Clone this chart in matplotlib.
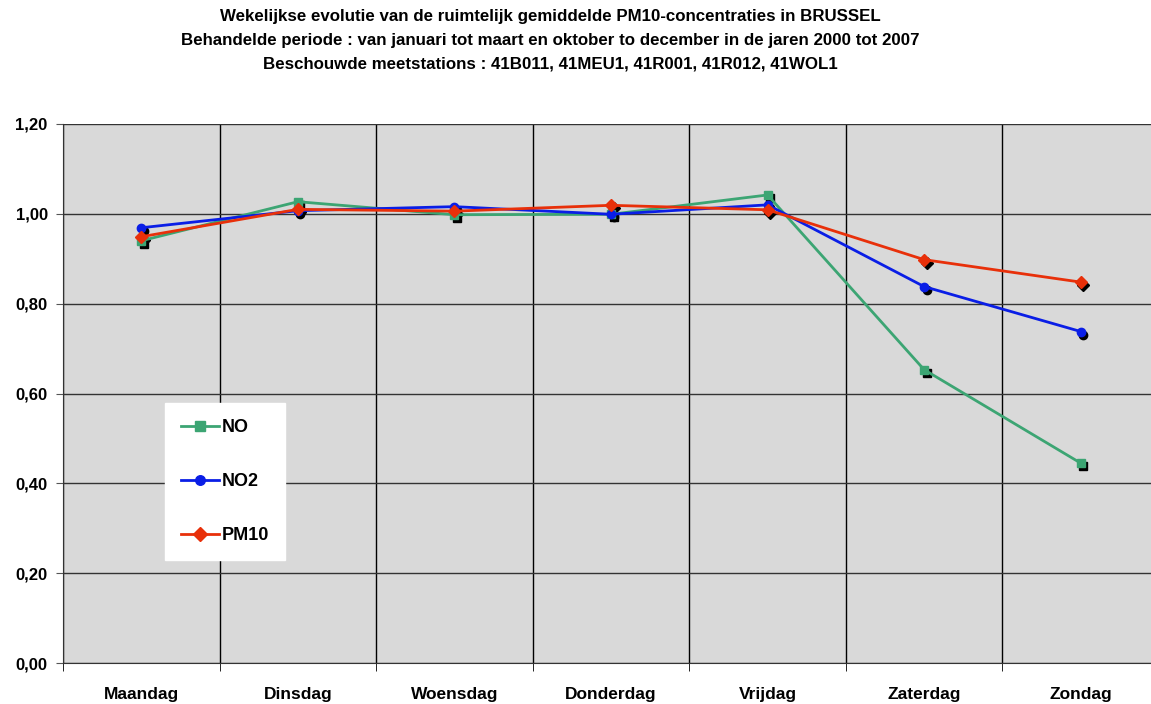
import matplotlib
matplotlib.use('Agg')
import matplotlib.pyplot as plt
from matplotlib.transforms import offset_copy
import numpy as np

days = ['Maandag', 'Dinsdag', 'Woensdag', 'Donderdag', 'Vrijdag', 'Zaterdag', 'Zondag']
no_vals = [0.940, 1.027, 0.998, 0.999, 1.042, 0.653, 0.445]
no2_vals = [0.969, 1.007, 1.016, 0.999, 1.020, 0.838, 0.738]
pm10_vals = [0.949, 1.010, 1.006, 1.019, 1.009, 0.898, 0.848]
yticks = [0.0, 0.2, 0.4, 0.6, 0.8, 1.0, 1.2]

title_lines = [
    'Wekelijkse evolutie van de ruimtelijk gemiddelde PM10-concentraties in BRUSSEL',
    'Behandelde periode : van januari tot maart en oktober to december in de jaren 2000 tot 2007',
    'Beschouwde meetstations : 41B011, 41MEU1, 41R001, 41R012, 41WOL1',
]

plt.rcParams['font.family'] = ['Liberation Sans', 'DejaVu Sans']

fig = plt.figure(figsize=(11.51, 7.04), dpi=100)
# plot area runs a bit past the right edge of the picture, as in the original
ax = fig.add_axes([63/1151, 41/704, 1096/1151, 539/704])
ax.set_facecolor('#d9d9d9')

x = np.arange(len(days))
series = [
    ('NO', no_vals, '#3ca573', 's', 6),
    ('NO2', no2_vals, '#0a1ee6', 'o', 6),
    ('PM10', pm10_vals, '#e8300a', 'D', 6.5),
]

# black shadow markers first, shifted a bit down-right
shadow = offset_copy(ax.transData, fig=fig, x=2.5, y=-3, units='dots')
for name, vals, col, mk, ms in series:
    ax.plot(x, vals, linestyle='none', marker=mk, color='black', ms=ms,
            transform=shadow, zorder=3, clip_on=False)

for name, vals, col, mk, ms in series:
    ax.plot(x, vals, color=col, lw=2, marker=mk, ms=ms, mec=col,
            label=name, zorder=4, clip_on=False)

ax.set_xlim(-0.5, len(days) - 0.5)
ax.set_ylim(0, 1.2)
ax.set_yticks(yticks)
ax.set_yticklabels([('%.2f' % v).replace('.', ',') for v in yticks],
                   fontsize=12, fontweight='bold')
ax.set_xticks(x)
ax.set_xticklabels(days, fontsize=12.5, fontweight='bold')
ax.set_xticks(np.arange(-0.5, len(days)), minor=True)
ax.tick_params(axis='x', which='major', length=0, pad=17)
ax.tick_params(axis='x', which='minor', length=6, color='black')
ax.tick_params(axis='y', length=5, pad=6, color='#555555')

ax.grid(True, axis='y', which='major', color='#333333', lw=1)
ax.grid(True, axis='x', which='minor', color='black', lw=1)
ax.set_axisbelow(True)
for side in ['top', 'right']:
    ax.spines[side].set_visible(False)
for side in ['left', 'bottom']:
    ax.spines[side].set_color('#333333')

leg = ax.legend(loc='center', bbox_to_anchor=(0.148, 0.337),
                frameon=True, fancybox=False, labelspacing=2.05,
                handlelength=2.1, handletextpad=0.15, borderpad=0.9,
                markerscale=1.15, prop={'size': 13, 'weight': 'bold'},
                borderaxespad=0)
leg.get_frame().set_facecolor('white')
leg.get_frame().set_edgecolor('white')
leg.get_frame().set_alpha(1)

for i, line in enumerate(title_lines):
    fig.text(550/1151, 1 - (16 + 24*i)/704, line, ha='center', va='center',
             fontsize=12.2, fontweight='bold')

fig.savefig('out.png', dpi=100)
